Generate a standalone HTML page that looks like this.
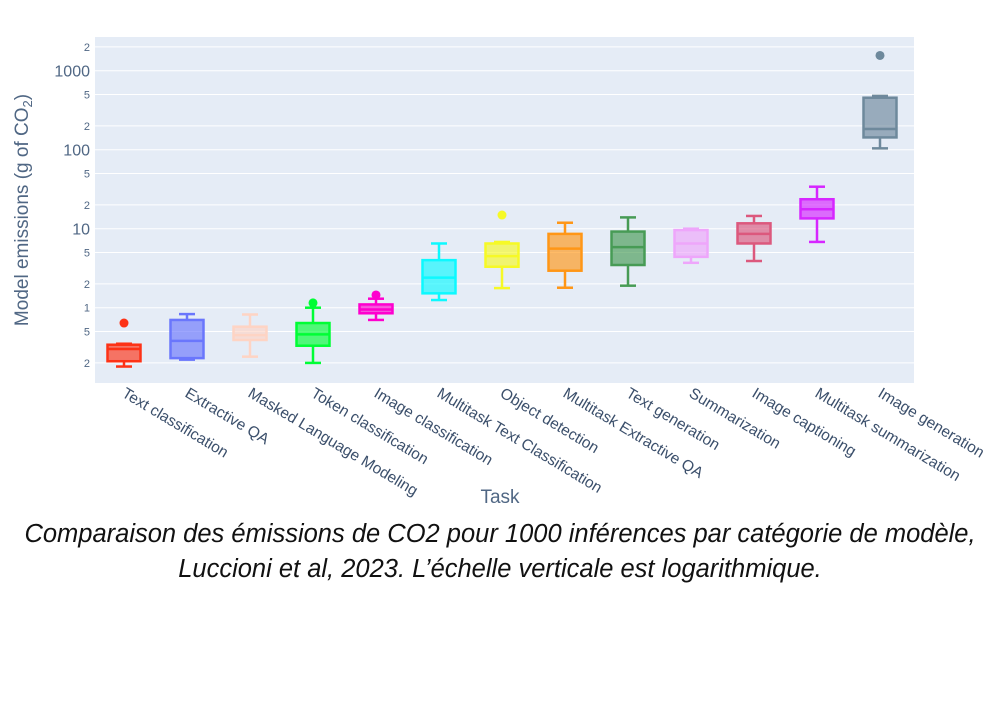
<!DOCTYPE html>
<html><head><meta charset="utf-8"><style>
body{margin:0;background:#fff;width:1000px;height:700px;overflow:hidden;font-family:"Liberation Sans",sans-serif}
</style></head><body>
<svg id="chart" width="1000" height="700" xmlns="http://www.w3.org/2000/svg" font-family="Liberation Sans, sans-serif">
<rect x="95" y="37" width="819" height="346" fill="#e5ecf6"/>
<g id="grid"></g><g id="yticks"></g><g id="boxes"></g><g id="xticks"></g>
<text transform="translate(28,210) rotate(-90)" text-anchor="middle" font-size="19" fill="#506784">Model emissions (g of CO<tspan font-size="13" dy="4">2</tspan><tspan dy="-4">)</tspan></text>
<text x="500" y="503" text-anchor="middle" font-size="19" fill="#506784">Task</text>
<text x="500" y="542" text-anchor="middle" font-size="25.5" font-style="italic" fill="#111">Comparaison des émissions de CO2 pour 1000 inférences par catégorie de modèle,</text>
<text x="500" y="577" text-anchor="middle" font-size="25.5" font-style="italic" fill="#111">Luccioni et al, 2023. L’échelle verticale est logarithmique.</text>
</svg>
<script>
const categories=["Text classification","Extractive QA","Masked Language Modeling","Token classification","Image classification","Multitask Text Classification","Object detection","Multitask Extractive QA","Text generation","Summarization","Image captioning","Multitask summarization","Image generation"];
const lowerWhisker=[0.18,0.22,0.24,0.2,0.7,1.25,1.77,1.79,1.9,3.7,3.9,6.8,104];
const q1=[0.21,0.23,0.39,0.33,0.85,1.52,3.3,2.94,3.47,4.4,6.5,13.5,143];
const median=[0.3,0.38,0.45,0.46,0.95,2.4,4.5,5.6,5.85,6.5,8.6,17.6,183];
const q3=[0.34,0.7,0.575,0.64,1.1,4.0,6.5,8.6,9.2,9.6,11.7,23.6,455];
const upperWhisker=[0.35,0.83,0.82,1.0,1.3,6.5,6.8,11.9,13.9,10,14.5,34,480];
const outliers=[[0.64],[],[],[1.15],[1.45],[],[14.9],[],[],[],[],[],[1560]];
const colors=["#FD3216","#6A76FC","#FED4C4","#00FE35","#FE00CE","#0DF9FF","#F6F926","#FF9616","#479B55","#EEA6FB","#DC587D","#D626FF","#6E899C"];
const tickValues=[0.2,0.5,1,2,5,10,20,50,100,200,500,1000,2000];
const tickLabels=["2","5","1","2","5","10","2","5","100","2","5","1000","2"];
const NS="http://www.w3.org/2000/svg";
const y=v=>307.7-79*Math.log10(v);
const x=i=>124+i*63;
function mk(tag,attrs,parent){const e=document.createElementNS(NS,tag);for(const k in attrs)e.setAttribute(k,attrs[k]);parent.appendChild(e);return e;}
const grid=document.getElementById('grid'),yt=document.getElementById('yticks'),bx=document.getElementById('boxes'),xt=document.getElementById('xticks');
tickValues.forEach((v,i)=>{
 const l=mk('line',{x1:95,x2:914,y1:y(v),y2:y(v),stroke:'#fff','stroke-width':1},grid);
 
 
 const major=tickLabels[i].length>1;
 const t=mk('text',{x:90,y:y(v)+(major?6:4),'text-anchor':'end','font-size':major?16:11,fill:'#506784'},yt);
 t.textContent=tickLabels[i];
 
 
});
categories.forEach((c,i)=>{
 const cx=x(i),col=colors[i],w=33;
 const g=mk('g',{},bx);
 
 
 mk('line',{x1:cx,x2:cx,y1:y(upperWhisker[i]),y2:y(q3[i]),stroke:col,'stroke-width':2.5},g);
 mk('line',{x1:cx,x2:cx,y1:y(q1[i]),y2:y(lowerWhisker[i]),stroke:col,'stroke-width':2.5},g);
 mk('line',{x1:cx-8,x2:cx+8,y1:y(upperWhisker[i]),y2:y(upperWhisker[i]),stroke:col,'stroke-width':2.5},g);
 mk('line',{x1:cx-8,x2:cx+8,y1:y(lowerWhisker[i]),y2:y(lowerWhisker[i]),stroke:col,'stroke-width':2.5},g);
 mk('rect',{x:cx-w/2,y:y(q3[i]),width:w,height:y(q1[i])-y(q3[i]),fill:col,'fill-opacity':0.65,stroke:col,'stroke-width':2.5},g);
 mk('line',{x1:cx-w/2,x2:cx+w/2,y1:y(median[i]),y2:y(median[i]),stroke:col,'stroke-width':2.5},g);
 outliers[i].forEach(o=>{const p=mk('circle',{cx:cx,cy:y(o),r:4.5,fill:col},g);
  
  });
 const t=mk('text',{transform:`translate(${cx-3},396) rotate(31)`,'font-size':15.5,fill:'#3b4f6b'},xt);
 t.textContent=c;
 
 
});
</script>
</body></html>
